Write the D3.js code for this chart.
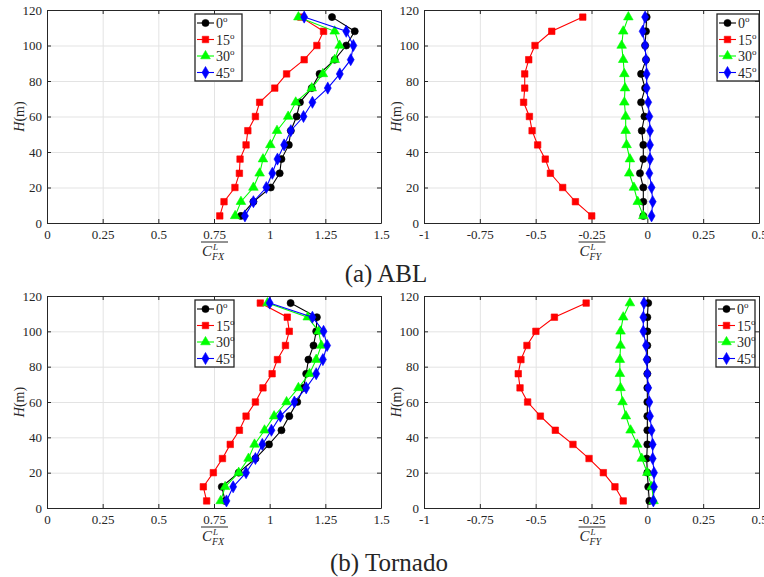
<!DOCTYPE html>
<html>
<head>
<meta charset="utf-8">
<script src="https://cdn.jsdelivr.net/npm/d3@7"></script>
<style>
body { margin: 0; background: #fff; }
svg { display: block; }
text { font-family: "Liberation Serif", "Times New Roman", serif; fill: #262626; }
</style>
</head>
<body>
<svg width="764" height="577"></svg>
<script>
// heights (m)
const heights = [4, 12, 20, 28, 36, 44, 52, 60, 68, 76, 84, 92, 100, 108, 116];
const angles = ['0', '15', '30', '45'];

// (a) ABL, C_FX
const ablFx0  = [0.871, 0.927, 1.005, 1.045, 1.053, 1.086, 1.095, 1.121, 1.136, 1.189, 1.224, 1.292, 1.344, 1.382, 1.280];
const ablFx15 = [0.776, 0.795, 0.844, 0.864, 0.867, 0.894, 0.902, 0.936, 0.955, 1.023, 1.076, 1.155, 1.212, 1.242, 1.140];
const ablFx30 = [0.845, 0.871, 0.927, 0.955, 0.970, 1.003, 1.033, 1.083, 1.117, 1.189, 1.239, 1.292, 1.314, 1.292, 1.129];
const ablFx45 = [0.889, 0.927, 0.985, 1.012, 1.035, 1.065, 1.095, 1.152, 1.192, 1.261, 1.315, 1.364, 1.376, 1.344, 1.155];
// (a) ABL, C_FY
const ablFy0  = [-0.018, -0.018, -0.018, -0.033, -0.018, -0.018, -0.025, -0.013, -0.028, -0.010, -0.028, -0.006, -0.010, -0.006, -0.003];
const ablFy15 = [-0.249, -0.322, -0.379, -0.434, -0.457, -0.491, -0.516, -0.528, -0.554, -0.549, -0.549, -0.531, -0.503, -0.428, -0.289];
const ablFy30 = [-0.018, -0.043, -0.060, -0.081, -0.078, -0.093, -0.097, -0.097, -0.103, -0.100, -0.103, -0.108, -0.115, -0.108, -0.085];
const ablFy45 = [0.019, 0.024, 0.019, 0.009, 0.012, 0.012, 0.012, 0.009, 0.004, -0.003, -0.003, -0.006, -0.010, -0.021, -0.010];
// (b) Tornado, C_FX
const torFx0  = [0.800, 0.785, 0.861, 0.936, 0.997, 1.053, 1.088, 1.124, 1.152, 1.164, 1.174, 1.197, 1.209, 1.212, 1.094];
const torFx15 = [0.717, 0.702, 0.747, 0.788, 0.823, 0.864, 0.894, 0.936, 0.970, 1.011, 1.035, 1.071, 1.088, 1.079, 0.958];
const torFx30 = [0.780, 0.800, 0.861, 0.905, 0.932, 0.977, 1.020, 1.076, 1.129, 1.179, 1.209, 1.232, 1.220, 1.171, 0.990];
const torFx45 = [0.806, 0.836, 0.894, 0.936, 0.967, 1.008, 1.048, 1.111, 1.164, 1.209, 1.239, 1.258, 1.242, 1.192, 1.000];
// (b) Tornado, C_FY
const torFy0  = [0.009, 0.004, 0.000, -0.003, 0.000, 0.000, 0.000, 0.000, 0.000, 0.000, 0.000, 0.000, 0.000, 0.000, 0.004];
const torFy15 = [-0.108, -0.145, -0.197, -0.261, -0.333, -0.412, -0.479, -0.536, -0.570, -0.578, -0.566, -0.539, -0.499, -0.416, -0.274];
const torFy30 = [0.028, 0.020, 0.000, -0.025, -0.045, -0.075, -0.096, -0.111, -0.120, -0.123, -0.123, -0.120, -0.120, -0.108, -0.078];
const torFy45 = [0.027, 0.030, 0.030, 0.024, 0.024, 0.019, 0.012, 0.009, 0.004, 0.000, -0.003, -0.006, -0.018, -0.018, -0.015];

const fxTicks = [0, 0.25, 0.5, 0.75, 1, 1.25, 1.5];
const fyTicks = [-1, -0.75, -0.5, -0.25, 0, 0.25, 0.5];
const hTicks = [0, 20, 40, 60, 80, 100, 120];

const colors = ['#000000', '#ff0000', '#00ff00', '#0000ff'];
const shapes = [d3.symbolCircle, d3.symbolSquare, d3.symbolTriangle, d3.symbolDiamond];
const sizes = [40, 42, 40, 42];
const serif = '"Liberation Serif", "Times New Roman", serif';

const svg = d3.select('svg');

const panels = [
  { x0: 47, x1: 381, y0: 223, y1: 10, dom: [0, 1.5], ticks: fxTicks, sub: 'FX', lbl: 0.75,
    data: [ablFx0, ablFx15, ablFx30, ablFx45], legX: 195, legW: 47, hx: 24 },
  { x0: 424, x1: 759, y0: 223, y1: 10, dom: [-1, 0.5], ticks: fyTicks, sub: 'FY', lbl: -0.25,
    data: [ablFy0, ablFy15, ablFy30, ablFy45], legX: 717, legW: 42, hx: 401 },
  { x0: 47, x1: 381, y0: 508, y1: 296, dom: [0, 1.5], ticks: fxTicks, sub: 'FX', lbl: 0.75,
    data: [torFx0, torFx15, torFx30, torFx45], legX: 195, legW: 39, hx: 24 },
  { x0: 424, x1: 759, y0: 508, y1: 296, dom: [-1, 0.5], ticks: fyTicks, sub: 'FY', lbl: -0.25,
    data: [torFy0, torFy15, torFy30, torFy45], legX: 716, legW: 39, hx: 401 }
];

panels.forEach(function(p) {
  const x = d3.scaleLinear().domain(p.dom).range([p.x0, p.x1]);
  const y = d3.scaleLinear().domain([0, 120]).range([p.y0, p.y1]);
  const g = svg.append('g');

  // grid
  g.append('g')
    .attr('transform', `translate(0,${p.y0})`)
    .call(d3.axisBottom(x).tickValues(p.ticks).tickSize(-(p.y0 - p.y1)).tickFormat(''))
    .call(s => s.select('.domain').remove())
    .selectAll('line').attr('stroke', '#e3e3e3');
  g.append('g')
    .attr('transform', `translate(${p.x0},0)`)
    .call(d3.axisLeft(y).tickValues(hTicks).tickSize(-(p.x1 - p.x0)).tickFormat(''))
    .call(s => s.select('.domain').remove())
    .selectAll('line').attr('stroke', '#e3e3e3');

  // axes (ticks inward)
  const bx = g.append('g')
    .attr('transform', `translate(0,${p.y0})`)
    .call(d3.axisBottom(x).tickValues(p.ticks).tickSize(-4).tickSizeOuter(0).tickPadding(7).tickFormat(d => String(d)));
  const tx = g.append('g')
    .attr('transform', `translate(0,${p.y1})`)
    .call(d3.axisTop(x).tickValues(p.ticks).tickSize(-4).tickSizeOuter(0).tickFormat(''));
  const ly = g.append('g')
    .attr('transform', `translate(${p.x0},0)`)
    .call(d3.axisLeft(y).tickValues(hTicks).tickSize(-4).tickSizeOuter(0).tickPadding(5).tickFormat(d => String(d)));
  const ry = g.append('g')
    .attr('transform', `translate(${p.x1},0)`)
    .call(d3.axisRight(y).tickValues(hTicks).tickSize(-4).tickSizeOuter(0).tickFormat(''));
  [bx, tx, ly, ry].forEach(function(a) {
    a.attr('font-family', null).attr('font-size', null);
    a.select('.domain').attr('stroke', '#262626');
    a.selectAll('line').attr('stroke', '#262626');
    a.selectAll('text').style('font-size', '13px').style('font-family', serif).attr('fill', '#262626');
  });

  // series
  const line = d3.line().x(d => x(d[0])).y(d => y(d[1]));
  p.data.forEach(function(vals, i) {
    const pts = vals.map((v, k) => [v, heights[k]]);
    g.append('path').datum(pts)
      .attr('d', line).attr('fill', 'none')
      .attr('stroke', colors[i]).attr('stroke-width', 1.1);
    g.selectAll(null).data(pts).enter().append('path')
      .attr('transform', d => `translate(${x(d[0])},${y(d[1])})`)
      .attr('d', d3.symbol().type(shapes[i]).size(sizes[i]))
      .attr('fill', colors[i]).attr('stroke', colors[i]).attr('stroke-width', 0.6);
  });

  // y label
  const yl = g.append('text')
    .attr('transform', `translate(${p.hx},${(p.y0 + p.y1) / 2}) rotate(-90)`)
    .attr('text-anchor', 'middle').style('font-size', '14px');
  yl.append('tspan').attr('font-style', 'italic').text('H');
  yl.append('tspan').text('(m)');

  // x label: overline C^L_sub
  const cx = x(p.lbl);
  const xl = g.append('g');
  xl.append('line')
    .attr('x1', cx - 13).attr('x2', cx + 14)
    .attr('y1', p.y0 + 19).attr('y2', p.y0 + 19)
    .attr('stroke', '#262626').attr('stroke-width', 1);
  xl.append('text').attr('x', cx - 12).attr('y', p.y0 + 33)
    .style('font-size', '15px').attr('font-style', 'italic').text('C');
  xl.append('text').attr('x', cx - 1).attr('y', p.y0 + 27)
    .style('font-size', '9px').attr('font-style', 'italic').text('L');
  xl.append('text').attr('x', cx - 2).attr('y', p.y0 + 37)
    .style('font-size', '10px').attr('font-style', 'italic').text(p.sub);

  // legend
  const lt = p.y1 + 4;
  const lg = g.append('g');
  lg.append('rect')
    .attr('x', p.legX).attr('y', lt).attr('width', p.legW).attr('height', 67)
    .attr('fill', '#fff').attr('stroke', '#262626').attr('stroke-width', 1.3);
  angles.forEach(function(a, i) {
    const ly0 = lt + 9 + i * 16.5;
    lg.append('line')
      .attr('x1', p.legX + 2).attr('x2', p.legX + 19)
      .attr('y1', ly0).attr('y2', ly0)
      .attr('stroke', colors[i]).attr('stroke-width', 1.1);
    lg.append('path')
      .attr('transform', `translate(${p.legX + 10.5},${ly0})`)
      .attr('d', d3.symbol().type(shapes[i]).size(sizes[i]))
      .attr('fill', colors[i]).attr('stroke', colors[i]).attr('stroke-width', 0.6);
    const t = lg.append('text')
      .attr('x', p.legX + 21).attr('y', ly0 + 5).style('font-size', '14px');
    t.append('tspan').text(a);
    t.append('tspan').style('font-size', '9px').attr('dy', -6).text('o');
  });
});

// captions
svg.append('text').attr('x', 386).attr('y', 282)
  .attr('text-anchor', 'middle').style('font-size', '25px').attr('fill', '#000').text('(a) ABL');
svg.append('text').attr('x', 389).attr('y', 571)
  .attr('text-anchor', 'middle').style('font-size', '25px').attr('fill', '#000').text('(b) Tornado');
</script>
</body>
</html>
